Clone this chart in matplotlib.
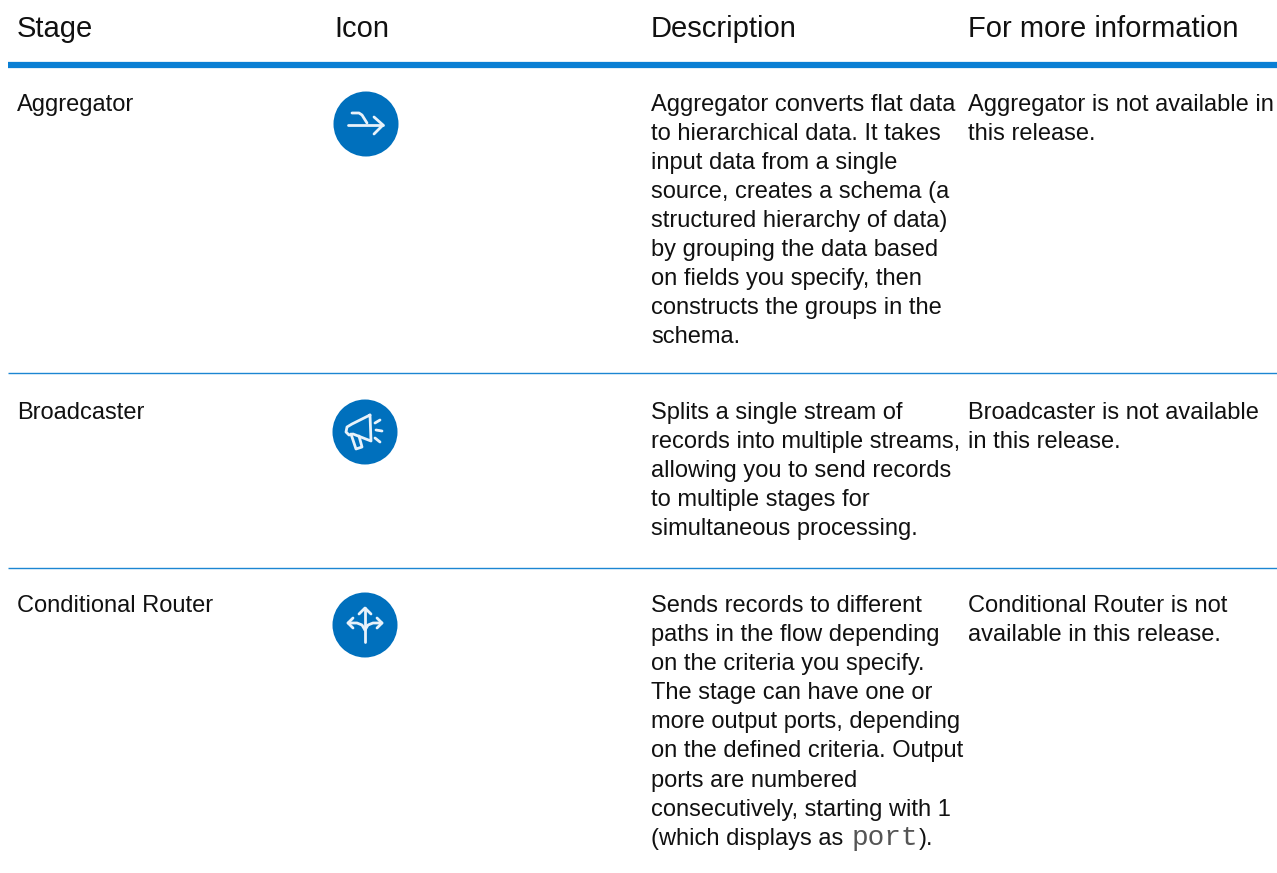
import matplotlib
matplotlib.use("Agg")
import matplotlib.pyplot as plt
from matplotlib.patches import Circle

plt.rcParams['font.family'] = ['Liberation Sans', 'DejaVu Sans']

headers = ["Stage", "Icon", "Description", "For more information"]
stages = ["Aggregator", "Broadcaster", "Conditional Router"]

descriptions = [
    ["Aggregator converts flat data", "to hierarchical data. It takes", "input data from a single",
     "source, creates a schema (a", "structured hierarchy of data)", "by grouping the data based",
     "on fields you specify, then", "constructs the groups in the", "schema."],
    ["Splits a single stream of", "records into multiple streams,", "allowing you to send records",
     "to multiple stages for", "simultaneous processing."],
    ["Sends records to different", "paths in the flow depending", "on the criteria you specify.",
     "The stage can have one or", "more output ports, depending", "on the defined criteria. Output",
     "ports are numbered", "consecutively, starting with 1", "(which displays as"],
]
more_info = [
    ["Aggregator is not available in", "this release."],
    ["Broadcaster is not available", "in this release."],
    ["Conditional Router is not", "available in this release."],
]

# icon strokes, pixels from the circle centre
icon_arrow = [
    [(-18, 1), (17, 1)],
    [(8, -7), (17, 1), (8, 10)],
    [(-14, -11), (-7, -11), (-4, -9), (1, -1)],
]
icon_horn = [
    [(5, -17), (-13, -8), (-18, -5), (-19, 0), (-16, 3), (-12, 2), (6, 9), (5, -17)],
    [(-14, 2), (-9, 17), (-3, 15), (-6, 4)],
    [(10, -9), (15, -12)],
    [(11, -2), (17, -1)],
    [(10, 6), (15, 10)],
]
icon_split = [
    [(0, 17), (0, -17)],
    [(-6, -11), (0, -17), (6, -11)],
    [(-12, -7), (-17, -2), (-12, 3)],
    [(12, -7), (17, -2), (12, 3)],
    [(-17, -2), (-8, -2), (-3, 0), (0, 5)],
    [(17, -2), (8, -2), (3, 0), (0, 5)],
]
icons = [icon_arrow, icon_horn, icon_split]

col_x = [17, 334, 651, 968]
row_base = [110.5, 419, 612]
icon_xy = [(366, 124), (365, 432), (365, 625)]
rule_y = [373, 568]
blue = "#0070bd"
line_h = 29.1

fig = plt.figure(figsize=(12.77, 8.73), dpi=100)
ax = fig.add_axes([0, 0, 1, 1])
ax.set_xlim(0, 1277)
ax.set_ylim(873, 0)
ax.axis("off")

for x, h in zip(col_x, headers):
    ax.text(x, 37, h, fontsize=21, color="#111111", va="baseline")

ax.plot([8, 1277], [65.2, 65.2], color="#0a7fd4", lw=4.5, solid_capstyle="butt")
for y in rule_y:
    ax.plot([8, 1277], [y, y], color="#1c86d2", lw=1.0, solid_capstyle="butt")

for i, stage in enumerate(stages):
    base = row_base[i]
    ax.text(col_x[0], base, stage, fontsize=17, color="#111111", va="baseline")
    for n, line in enumerate(descriptions[i]):
        ax.text(col_x[2], base + n * line_h, line, fontsize=17, color="#111111", va="baseline")
    for n, line in enumerate(more_info[i]):
        ax.text(col_x[3], base + n * line_h, line, fontsize=17, color="#111111", va="baseline")

    cx, cy = icon_xy[i]
    ax.add_patch(Circle((cx, cy), 32.5, color=blue, lw=0))
    for stroke in icons[i]:
        ax.plot([cx + p[0] for p in stroke], [cy + p[1] for p in stroke],
                color="#e8f2fa", lw=2.0, solid_capstyle="round", solid_joinstyle="round")

# the code word at the end of the last description
last_y = row_base[2] + 8 * line_h
ax.text(852, last_y, "port", fontsize=20, family=["Liberation Mono", "DejaVu Sans Mono"],
        color="#555555", va="baseline")
ax.text(919, last_y, ").", fontsize=17, color="#111111", va="baseline")

fig.savefig("out.png", dpi=100)
